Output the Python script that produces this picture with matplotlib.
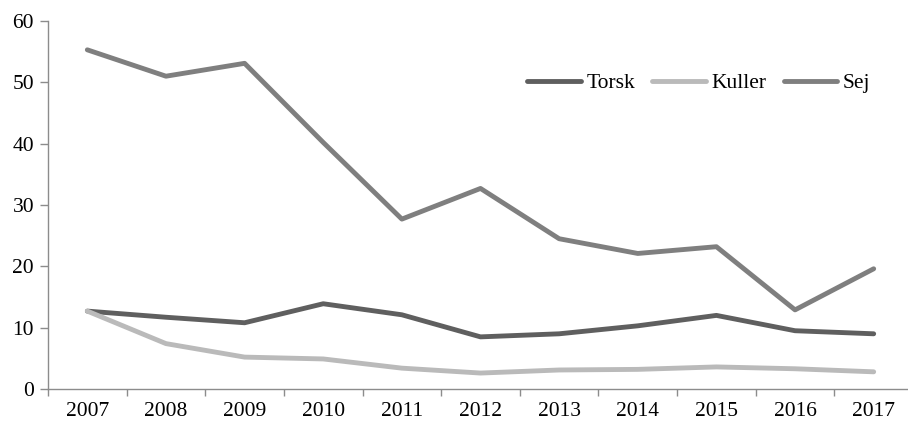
import matplotlib.pyplot as plt
import numpy as np

plt.rcParams["font.family"] = ["Liberation Serif", "DejaVu Serif"]

years = ["2007", "2008", "2009", "2010", "2011", "2012",
         "2013", "2014", "2015", "2016", "2017"]
torsk = [12.7, 11.7, 10.8, 13.9, 12.1, 8.5, 9.0, 10.3, 12.0, 9.5, 9.0]
kuller = [12.7, 7.4, 5.2, 4.9, 3.4, 2.6, 3.1, 3.2, 3.6, 3.3, 2.8]
sej = [55.3, 51.0, 53.1, 40.2, 27.7, 32.7, 24.5, 22.1, 23.2, 12.9, 19.6]

series = [("Torsk", torsk, "#5f5f5f"),
          ("Kuller", kuller, "#bababa"),
          ("Sej", sej, "#7f7f7f")]

fig = plt.figure(figsize=(9.08, 4.21), dpi=100)
ax = fig.add_axes([48 / 908, 32 / 421, 865 / 908, 368 / 421])

x = np.arange(len(years))
for name, vals, color in series:
    ax.plot(x, vals, color=color, linewidth=3.5, label=name,
            solid_capstyle="round", solid_joinstyle="round")

ax.set_xlim(-0.5, len(years) - 0.5)
ax.set_ylim(0, 60)
ax.set_yticks(range(0, 61, 10))
ax.set_xticks(x)
ax.set_xticklabels(years)
ax.set_xticks(np.arange(-0.5, len(years)), minor=True)
ax.tick_params(axis="x", which="major", length=0, pad=9, labelsize=15.5)
ax.tick_params(axis="x", which="minor", length=5, width=1, color="#8c8c8c")
ax.tick_params(axis="y", length=6, width=1, color="#8c8c8c", labelsize=15.5, pad=4)

for side in ["top", "right"]:
    ax.spines[side].set_visible(False)
for side in ["left", "bottom"]:
    ax.spines[side].set_color("#8c8c8c")
    ax.spines[side].set_linewidth(1)

fig.legend(loc="center left", bbox_to_anchor=(527 / 908, 1 - 83 / 421),
           ncol=3, frameon=False, fontsize=15.5, handlelength=2.5,
           handletextpad=0.25, columnspacing=0.8, borderpad=0, borderaxespad=0)

plt.savefig("out.png", dpi=100)
